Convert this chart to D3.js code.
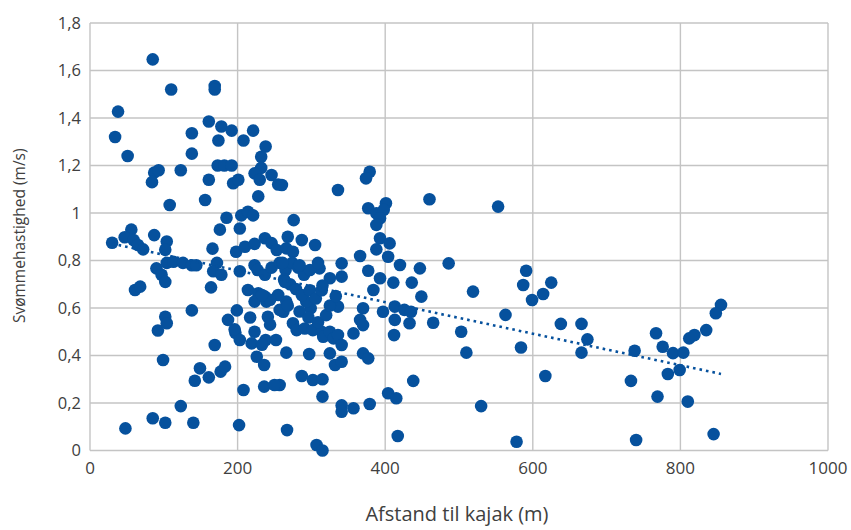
<!DOCTYPE html>
<html><head><meta charset="utf-8">
<script src="https://cdn.jsdelivr.net/npm/d3@7"></script>
<style>body{margin:0;background:#fff}svg{display:block}</style>
</head><body>
<svg id="c" width="851" height="530"></svg>
<script>
const distance = [85,110,169,169,38,34,161,178,192,221,138,174,208,238,232,
51,138,87,84,93,123,173,182,192,161,194,201,108,156,185,176,205,214,221,203,56,47,59,65,72,30,87,104,102,166,198,210,223,237,246,253,104,113,126,138,144,90,97,102,172,167,178,203,223,61,68,164,214,228,237,
232,223,230,246,255,228,
260,336,379,374,460,377,388,401,398,393,388,276,268,287,305,266,275,393,406,388,404,366,420,447,486,341,377,311,393,411,436,325,341,519,449,384,
262,299,336,370,397,413,426,435,433,413,465,275,280,291,302,314,316,325,330,336,341,357,366,370,412,503,266,297,325,332,341,370,377,510,287,302,315,438,257,315,404,415,341,341,357,379,267,307,315,417,266,293,
563,584,638,666,674,666,617,530,578,738,733,740,767,776,790,783,769,
855,848,835,812,819,804,799,810,845,
138,199,102,104,92,197,223,219,238,241,257,223,239,169,99,226,236,149,142,161,177,183,208,236,250,123,85,102,48,140,202,
553,591,587,599,614,625,
227,237,246,257,265,274,282,290,298,309,263,271,279,287,298,306,314,255,244,233,268,284,296,309,320,325,333,187,196,203,217,233,244,252,261,284,264,315];
const speed = [1.647,1.52,1.535,1.52,1.427,1.32,1.385,1.364,1.347,1.347,1.336,1.305,1.305,1.28,1.237,
1.24,1.25,1.17,1.13,1.18,1.18,1.20,1.20,1.20,1.14,1.125,1.14,1.034,1.055,0.98,0.93,0.99,1.005,0.99,0.935,0.93,0.898,0.886,0.865,0.847,0.875,0.907,0.88,0.845,0.85,0.837,0.858,0.87,0.894,0.873,0.844,0.79,0.795,0.79,0.78,0.78,0.767,0.74,0.71,0.79,0.755,0.74,0.755,0.78,0.676,0.69,0.687,0.676,0.662,0.648,
1.19,1.167,1.14,1.16,1.12,1.07,
1.118,1.097,1.174,1.146,1.058,1.02,0.999,1.041,1.013,0.978,0.95,0.97,0.9,0.886,0.865,0.851,0.837,0.894,0.872,0.847,0.816,0.819,0.781,0.767,0.788,0.788,0.757,0.767,0.725,0.707,0.707,0.725,0.732,0.669,0.648,0.676,
0.584,0.599,0.606,0.599,0.584,0.606,0.592,0.584,0.536,0.55,0.538,0.536,0.507,0.514,0.507,0.50,0.479,0.50,0.472,0.486,0.444,0.493,0.55,0.528,0.486,0.50,0.412,0.406,0.409,0.36,0.374,0.409,0.388,0.412,0.314,0.297,0.30,0.293,0.276,0.227,0.241,0.22,0.19,0.163,0.178,0.196,0.086,0.023,0.0,0.061,0.627,0.627,
0.571,0.434,0.533,0.533,0.468,0.412,0.314,0.187,0.037,0.42,0.293,0.044,0.494,0.437,0.41,0.322,0.227,
0.613,0.578,0.507,0.472,0.486,0.412,0.339,0.206,0.069,
0.59,0.59,0.563,0.536,0.505,0.496,0.50,0.451,0.465,0.563,0.592,0.627,0.627,0.444,0.381,0.395,0.36,0.346,0.294,0.308,0.332,0.353,0.255,0.269,0.276,0.187,0.136,0.117,0.093,0.117,0.107,
1.027,0.757,0.697,0.634,0.659,0.707,
0.76,0.74,0.77,0.79,0.76,0.79,0.77,0.74,0.76,0.79,0.72,0.70,0.68,0.655,0.675,0.64,0.675,0.655,0.635,0.655,0.61,0.585,0.56,0.54,0.57,0.61,0.65,0.55,0.51,0.465,0.56,0.445,0.53,0.465,0.79,0.78,0.71,0.695];
const xTicks = [0,200,400,600,800,1000];
const yTicks = [0,0.2,0.4,0.6,0.8,1,1.2,1.4,1.6,1.8];
const xTitle = "Afstand til kajak (m)";
const yTitle = "Svømmehastighed (m/s)";

const svg = d3.select("#c");
const L=90, R=828, T=23, B=450.5;
const x = d3.scaleLinear().domain([0,1000]).range([L,R]);
const y = d3.scaleLinear().domain([0,1.8]).range([B,T]);
const blue = "#06519d";
const fmt = v => String(+v.toFixed(1)).replace(".", ",");

const g = svg.append("g");
g.selectAll(".gy").data(yTicks).join("line")
  .attr("x1",L).attr("x2",R).attr("y1",d=>y(d)).attr("y2",d=>y(d))
  .attr("stroke","#c4c4c4").attr("stroke-width",1.4);
g.selectAll(".gx").data(xTicks).join("line")
  .attr("y1",T).attr("y2",B).attr("x1",d=>x(d)).attr("x2",d=>x(d))
  .attr("stroke","#c4c4c4").attr("stroke-width",1.4);

const font = "'Open Sans', 'Liberation Sans', sans-serif";
svg.selectAll(".yl").data(yTicks).join("text")
  .attr("x",L-9).attr("y",d=>y(d)).attr("dy","0.35em")
  .attr("text-anchor","end").attr("font-family",font).attr("font-size",16.5)
  .attr("fill","#404040").text(fmt);
svg.selectAll(".xl").data(xTicks).join("text")
  .attr("x",d=>x(d)).attr("y",B+23).attr("text-anchor","middle")
  .attr("font-family",font).attr("font-size",17).attr("fill","#404040").text(d=>d);

svg.append("text").attr("x",(L+R)/2-2).attr("y",521).attr("text-anchor","middle")
  .attr("font-family",font).attr("font-size",20).attr("fill","#404040").text(xTitle);
svg.append("text").attr("transform",`translate(25,${(T+B)/2-1}) rotate(-90)`)
  .attr("text-anchor","middle").attr("font-family",font).attr("font-size",15.5)
  .attr("fill","#404040").text(yTitle);

const pts = distance.map((d,i)=>({x:d,y:speed[i]}));
svg.append("g").selectAll("circle").data(pts).join("circle")
  .attr("cx",d=>x(d.x)).attr("cy",d=>y(d.y)).attr("r",6.3).attr("fill",blue);

// linear trendline (least squares)
const mx=d3.mean(pts,d=>d.x), my=d3.mean(pts,d=>d.y);
const slope=d3.sum(pts,d=>(d.x-mx)*(d.y-my))/d3.sum(pts,d=>(d.x-mx)**2);
const icpt=my-slope*mx;
const [x0,x1]=d3.extent(pts,d=>d.x);
svg.append("line").attr("x1",x(x0)).attr("x2",x(x1))
  .attr("y1",y(icpt+slope*x0)).attr("y2",y(icpt+slope*x1))
  .attr("stroke",blue).attr("stroke-width",2.6).attr("stroke-dasharray","2.6,4");
</script>
</body></html>
